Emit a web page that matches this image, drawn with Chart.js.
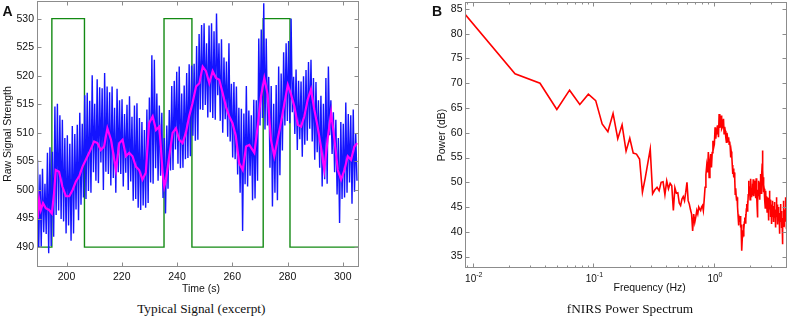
<!DOCTYPE html>
<html>
<head>
<meta charset="utf-8">
<script src="https://cdn.jsdelivr.net/npm/chart.js@4.4.1/dist/chart.umd.min.js"></script>
<style>
  html, body { margin: 0; padding: 0; background: #fff; }
  body { width: 789px; height: 319px; position: relative; overflow: hidden;
         font-family: "Liberation Sans", Arial, sans-serif; color: #111; }
  .box { position: absolute; top: 0; height: 300px; }
  .lbl { position: absolute; white-space: nowrap; }
  .mid { transform: translateX(-50%); }
  .panel { font-weight: bold; font-size: 14px; line-height: 16px; }
  .axis { font-size: 10.5px; line-height: 12px; }
  .cap { font-family: "Liberation Serif", "Times New Roman", serif; font-size: 13.3px; line-height: 16px; }
</style>
</head>
<body>
<div class="box" style="left:0;width:380px"><canvas id="chartA"></canvas></div>
<div class="box" style="left:400px;width:389px"><canvas id="chartB"></canvas></div>

<div class="lbl panel" style="left:2.5px;top:3px">A</div>
<div class="lbl panel" style="left:432px;top:3px">B</div>
<div class="lbl axis mid" style="left:201px;top:282px">Time (s)</div>
<div class="lbl axis mid" style="left:649.7px;top:281px">Frequency (Hz)</div>
<div class="lbl cap mid" style="left:201.3px;top:301px">Typical Signal (excerpt)</div>
<div class="lbl cap mid" style="left:630px;top:301px">fNIRS Power Spectrum</div>

<script>
Chart.defaults.font.family = "'Liberation Sans', Arial, sans-serif";
Chart.defaults.font.size = 10.5;
Chart.defaults.color = '#111';

// ---------- panel A: raw signal ----------
const timeRange = [189.5, 305.7];
const signalRange = [486.6, 533.0];
const timeTicks = [200, 220, 240, 260, 280, 300];
const signalTicks = [490, 495, 500, 505, 510, 515, 520, 525, 530];

// one pulse peak + trough per cardiac cycle
const cycleStart = 189.5;
const cyclePeriod = 0.9;
const rawPeaks = [
  505.3, 502.7, 503.7, 501.1, 506.5, 507.5, 506.7, 514.6, 515.1, 513.1,
  512.3, 509.1, 509.6, 508.1, 511.2, 509.8, 511.4, 513.5, 511.6, 516.6,
  517.0, 515.6, 520.1, 515.1, 519.4, 518.0, 517.8, 520.5, 518.1, 517.1,
  518.1, 514.4, 517.7, 515.7, 515.9, 513.3, 514.9, 516.4, 512.8, 514.8,
  515.2, 512.6, 511.9, 510.5, 514.1, 516.2, 523.6, 522.8, 516.9, 514.8,
  513.5, 509.1, 511.3, 514.0, 518.2, 519.1, 520.7, 521.6, 516.9, 518.3,
  520.5, 522.0, 521.8, 522.1, 525.2, 527.3, 528.9, 529.2, 525.7, 528.8,
  529.2, 527.8, 530.9, 525.7, 526.4, 523.2, 522.5, 525.7, 518.6, 518.9,
  518.1, 514.4, 514.2, 513.4, 518.2, 513.9, 513.1, 515.8, 515.7, 526.5,
  528.1, 532.7, 526.5, 519.8, 518.2, 515.1, 518.4, 521.6, 520.4, 524.1,
  525.7, 526.1, 530.0, 519.8, 521.1, 519.1, 519.0, 519.9, 521.0, 522.4,
  522.8, 519.6, 518.9, 515.7, 516.5, 515.1, 519.6, 521.6, 515.7, 513.6,
  512.3, 509.1, 511.9, 511.6, 515.3, 513.3, 513.1, 514.1, 509.9
];
const rawTroughs = [
  489.9, 490.1, 492.6, 492.3, 488.9, 490.2, 491.8, 495.6, 496.4, 494.9,
  494.5, 492.4, 493.8, 491.1, 492.4, 496.6, 494.7, 497.4, 498.7, 498.4,
  499.8, 499.5, 503.1, 501.6, 501.2, 504.8, 500.0, 503.2, 502.8, 500.8,
  502.1, 499.5, 503.1, 502.8, 500.6, 503.0, 500.0, 501.5, 498.1, 498.4,
  496.9, 496.5, 497.3, 496.9, 497.7, 501.3, 501.1, 503.8, 501.6, 502.5,
  498.6, 495.9, 500.2, 503.4, 503.5, 507.1, 504.6, 503.8, 503.9, 505.4,
  505.6, 505.9, 509.5, 508.6, 508.8, 514.1, 514.0, 514.9, 512.7, 513.6,
  512.6, 512.3, 516.6, 512.1, 510.0, 512.4, 509.3, 508.5, 505.7, 505.4,
  502.7, 499.5, 492.8, 501.0, 500.6, 502.5, 498.2, 498.5, 501.6, 511.3,
  512.6, 510.6, 511.3, 503.9, 497.1, 499.5, 498.2, 502.6, 506.9, 511.3,
  512.1, 511.7, 513.6, 509.8, 507.0, 508.9, 505.8, 507.9, 508.6, 510.7,
  508.5, 505.3, 506.6, 503.9, 500.6, 501.9, 501.1, 509.6, 506.3, 503.1,
  499.2, 494.2, 498.4, 498.7, 499.5, 501.3, 497.6, 499.7, 501.6
];

// smoothed (magenta) trace
const smoothTimes = [
  189.6, 190.1, 190.7, 191.5, 192.5, 193.7, 194.7, 195.5, 196.1, 197.3,
  198.5, 199.8, 201.0, 202.2, 203.4, 204.6, 205.8, 207.0, 208.2, 210.0,
  211.2, 212.4, 213.6, 214.8, 216.1, 217.9, 219.1, 220.3, 221.5, 222.7,
  223.9, 225.1, 226.3, 227.5, 228.7, 229.9, 231.2, 232.4, 233.6, 234.8,
  235.4, 236.0, 237.2, 238.4, 239.6, 240.8, 242.0, 243.2, 244.4, 245.6,
  246.9, 248.1, 249.3, 250.5, 251.7, 252.9, 254.1, 255.3, 256.5, 257.7,
  258.9, 260.1, 261.3, 262.5, 263.8, 265.0, 266.2, 268.0, 269.2, 270.4,
  271.6, 272.8, 274.0, 275.2, 276.4, 277.6, 278.9, 280.1, 281.3, 282.5,
  283.7, 284.9, 286.1, 287.3, 288.5, 289.7, 290.9, 292.1, 293.3, 294.5,
  295.8, 297.0, 298.2, 299.4, 300.6, 301.8, 303.0, 304.2, 305.2
];
const smoothValues = [
  495.0, 498.3, 496.5, 497.7, 496.8, 496.5, 495.9, 499.5, 503.5, 503.2,
  500.6, 498.9, 498.9, 500.0, 501.5, 502.4, 504.1, 505.3, 506.5, 508.5,
  508.2, 507.0, 507.6, 510.8, 508.8, 503.5, 508.2, 508.8, 505.9, 506.5,
  505.9, 504.1, 503.5, 501.8, 503.0, 511.7, 512.9, 510.5, 511.1, 503.0,
  500.6, 501.8, 505.9, 510.0, 510.8, 508.8, 508.2, 510.0, 512.9, 515.2,
  518.1, 518.7, 521.6, 520.8, 518.7, 520.8, 519.6, 519.3, 517.0, 514.6,
  512.9, 511.7, 509.4, 504.7, 503.5, 507.6, 507.9, 506.5, 511.1, 516.4,
  519.6, 516.7, 508.8, 505.9, 508.8, 511.7, 515.2, 518.4, 516.7, 514.6,
  511.4, 511.1, 512.9, 515.8, 517.6, 514.1, 511.1, 507.6, 503.5, 508.8,
  513.5, 508.8, 503.5, 501.8, 503.5, 505.9, 505.3, 507.6, 508.2
];

// stimulus blocks (green)
const stimOn = [194.7, 235.3, 271.2];
const stimOff = [206.5, 245.4, 280.9];
const stimLevels = [490, 530];

// ---------- panel B: power spectrum ----------
const freqRange = [0.0087, 4.0];
const powerRange = [32.8, 86.3];
const powerTicks = [35, 40, 45, 50, 55, 60, 65, 70, 75, 80, 85];
const freqDecades = [0.01, 0.1, 1];
const freqStart = 0.0087;
const freqStep = 0.0137;
const powerDb = [
  83.8, 71.9, 70.0, 64.7, 68.6, 65.7, 67.8, 66.5, 61.8, 60.2,
  63.9, 58.8, 61.6, 56.3, 58.9, 55.9, 55.7, 54.7, 48.0, 50.8,
  53.8, 56.7, 47.7, 48.5, 49.0, 48.3, 50.0, 50.1, 47.5, 50.3,
  48.7, 49.8, 49.3, 44.3, 48.9, 47.8, 47.9, 45.8, 45.3, 46.6,
  47.1, 46.3, 48.0, 50.0, 46.3, 45.6, 44.5, 43.6, 40.2, 43.6,
  41.9, 43.0, 44.3, 43.6, 45.0, 44.6, 44.3, 45.0, 45.3, 44.3,
  46.5, 49.0, 51.5, 53.4, 52.0, 56.1, 51.0, 54.0, 55.7, 53.0,
  56.0, 58.4, 57.0, 57.7, 61.1, 58.8, 60.5, 59.8, 61.5, 59.1,
  63.8, 61.0, 61.8, 63.5, 60.8, 61.1, 62.0, 62.8, 59.8, 61.2,
  60.4, 59.0, 58.1, 60.0, 59.1, 58.3, 59.1, 57.7, 58.2, 57.1,
  55.0, 56.2, 55.4, 53.5, 51.7, 52.8, 51.0, 52.0, 50.7, 47.6,
  48.8, 47.2, 46.3, 47.0, 45.0, 43.5, 41.3, 43.0, 42.5, 42.0,
  43.2, 40.9, 41.5, 39.5, 36.2, 39.0, 40.3, 39.2, 41.6, 40.5,
  42.0, 42.9, 41.8, 43.6, 42.5, 44.6, 45.6, 44.2, 46.3, 45.0,
  47.5, 50.3, 47.8, 49.2, 48.3, 46.5, 49.5, 50.7, 48.5, 47.0,
  48.8, 47.5, 49.7, 48.0, 50.6, 48.3, 47.2, 49.0, 50.3, 47.8,
  49.5, 48.3, 46.8, 50.8, 49.0, 47.5, 45.0, 42.9, 46.0, 48.5,
  47.2, 50.3, 47.6, 49.5, 48.3, 46.5, 50.0, 51.7, 49.2, 47.8,
  50.2, 48.3, 51.5, 53.8, 56.4, 52.5, 50.2, 51.0, 48.0, 49.5,
  48.7, 47.0, 48.2, 46.3, 44.8, 47.2, 48.3, 46.0, 47.2, 45.0,
  46.5, 44.0, 45.8, 47.0, 44.5, 46.0, 43.2, 42.3, 45.0, 46.8,
  44.5, 48.3, 45.2, 46.5, 44.0, 45.6, 43.0, 44.8, 42.5, 41.6,
  44.2, 45.5, 43.0, 46.3, 44.0, 45.2, 43.5, 42.0, 42.9, 44.6,
  43.0, 46.0, 45.6, 43.2, 44.5, 42.2, 43.5, 40.9, 42.8, 44.0,
  45.5, 47.0, 44.2, 45.5, 43.0, 44.0, 42.9, 41.5, 44.2, 42.8,
  44.0, 45.0, 42.5, 43.8, 41.2, 42.5, 39.6, 41.8, 43.5, 42.0,
  44.5, 45.6, 43.0, 44.2, 42.5, 41.9, 43.5, 40.8, 42.2, 39.5,
  40.8, 37.5, 40.5, 42.8, 41.0, 44.0, 46.3, 43.5, 42.0, 43.8,
  42.2, 41.6, 43.0, 44.5, 42.5, 45.0, 43.8, 47.0, 44.5, 42.2,
  43.5, 42.9
];

// ---------- build datasets ----------
const rawPoints = [];
rawPeaks.forEach((p, i) => {
  const t = cycleStart + i * cyclePeriod;
  rawPoints.push({ x: t, y: p });
  rawPoints.push({ x: t + cyclePeriod / 2, y: rawTroughs[i] });
});
const smoothPoints = smoothTimes.map((t, i) => ({ x: t, y: smoothValues[i] }));

const [lo, hi] = stimLevels;
const stimPoints = [{ x: timeRange[0], y: lo }];
stimOn.forEach((on, i) => {
  stimPoints.push({ x: on, y: lo }, { x: on, y: hi },
                  { x: stimOff[i], y: hi }, { x: stimOff[i], y: lo });
});
stimPoints.push({ x: timeRange[1], y: lo });

const spectrumPoints = powerDb.map((db, k) => ({ x: freqStart + k * freqStep, y: db }));

// box round the plot, with MATLAB style inward ticks
const frame = {
  id: 'frame',
  afterDatasetsDraw(chart, args, opts) {
    const { ctx, chartArea: a } = chart;
    const xs = chart.scales.x, ys = chart.scales.y;
    const L = Math.floor(a.left) + 0.5, R = Math.floor(a.right) + 0.5;
    const T = Math.floor(a.top) + 0.5, B = Math.floor(a.bottom) + 0.5;
    ctx.save();
    ctx.strokeStyle = '#8c8c8c';
    ctx.lineWidth = 1;
    ctx.beginPath();
    const vTick = (v, len) => {
      const px = Math.round(xs.getPixelForValue(v)) + 0.5;
      ctx.moveTo(px, B); ctx.lineTo(px, B - len);
      ctx.moveTo(px, T); ctx.lineTo(px, T + len);
    };
    opts.xMajor.forEach(v => vTick(v, 4));
    (opts.xMinor || []).forEach(v => vTick(v, 2));
    opts.yMajor.forEach(v => {
      const py = Math.round(ys.getPixelForValue(v)) + 0.5;
      ctx.moveTo(L, py); ctx.lineTo(L + 4, py);
      ctx.moveTo(R, py); ctx.lineTo(R - 4, py);
    });
    ctx.stroke();
    ctx.strokeRect(L, T, R - L, B - T);

    // log axis labels: 10 with a raised exponent
    if (opts.powerLabels) {
      ctx.fillStyle = '#111';
      ctx.textBaseline = 'alphabetic';
      opts.xMajor.forEach(v => {
        const exp = String(Math.round(Math.log10(v)));
        ctx.font = "10px 'Liberation Sans', Arial, sans-serif";
        const wb = ctx.measureText('10').width;
        ctx.font = "7px 'Liberation Sans', Arial, sans-serif";
        const we = ctx.measureText(exp).width;
        const x0 = xs.getPixelForValue(v) - (wb + we) / 2 + 1;
        ctx.font = "10px 'Liberation Sans', Arial, sans-serif";
        ctx.fillText('10', x0, B + 14);
        ctx.font = "7px 'Liberation Sans', Arial, sans-serif";
        ctx.fillText(exp, x0 + wb, B + 9);
      });
    }
    ctx.restore();
  }
};

const hideGrid = { display: false, drawTicks: false };

new Chart(document.getElementById('chartA'), {
  type: 'line',
  data: {
    datasets: [
      { data: smoothPoints, borderColor: '#ff00ff', borderWidth: 2.2, order: 0 },
      { data: rawPoints, borderColor: '#1414ff', borderWidth: 1.4, order: 1 },
      { data: stimPoints, borderColor: '#138a13', borderWidth: 1.4, order: 2 }
    ]
  },
  options: {
    animation: false,
    responsive: true,
    maintainAspectRatio: false,
    events: [],
    layout: { padding: { left: 0, top: 1.5, right: 21.5, bottom: 8.5 } },
    elements: { point: { radius: 0 }, line: { tension: 0 } },
    plugins: {
      legend: { display: false },
      tooltip: { enabled: false },
      frame: { xMajor: timeTicks, yMajor: signalTicks }
    },
    scales: {
      x: {
        type: 'linear', min: timeRange[0], max: timeRange[1],
        afterBuildTicks: s => { s.ticks = timeTicks.map(v => ({ value: v })); },
        afterFit: s => { s.height = 25; s.paddingLeft = 0; s.paddingRight = 0; },
        grid: hideGrid, border: { display: false },
        ticks: { padding: 4, maxRotation: 0, autoSkip: false, callback: v => String(v) }
      },
      y: {
        type: 'linear', min: signalRange[0], max: signalRange[1],
        afterBuildTicks: s => { s.ticks = signalTicks.map(v => ({ value: v })); },
        afterFit: s => { s.width = 37.5; s.paddingTop = 0; s.paddingBottom = 0; },
        grid: hideGrid, border: { display: false },
        ticks: { padding: 3.5, autoSkip: false, callback: v => String(v) },
        title: { display: true, text: 'Raw Signal Strength', padding: { top: 2, bottom: 0 } }
      }
    }
  },
  plugins: [frame]
});

const minorFreqs = [];
[0.001, 0.01, 0.1, 1].forEach(d => {
  [2, 3, 4, 5, 6, 7, 8, 9].forEach(m => {
    const f = d * m;
    if (f > freqRange[0] && f < freqRange[1]) minorFreqs.push(f);
  });
});

new Chart(document.getElementById('chartB'), {
  type: 'line',
  data: {
    datasets: [
      { data: spectrumPoints, borderColor: '#ff0000', borderWidth: 1.6 }
    ]
  },
  options: {
    animation: false,
    responsive: true,
    maintainAspectRatio: false,
    events: [],
    layout: { padding: { left: 34, top: 2.5, right: 2.5, bottom: 7.5 } },
    elements: { point: { radius: 0 }, line: { tension: 0 } },
    plugins: {
      legend: { display: false },
      tooltip: { enabled: false },
      frame: { xMajor: freqDecades, xMinor: minorFreqs, yMajor: powerTicks, powerLabels: true }
    },
    scales: {
      x: {
        type: 'logarithmic', min: freqRange[0], max: freqRange[1],
        afterFit: s => { s.height = 25; s.paddingLeft = 0; s.paddingRight = 0; },
        grid: hideGrid, border: { display: false },
        ticks: { display: false }
      },
      y: {
        type: 'linear', min: powerRange[0], max: powerRange[1],
        afterBuildTicks: s => { s.ticks = powerTicks.map(v => ({ value: v })); },
        afterFit: s => { s.width = 31.5; s.paddingTop = 0; s.paddingBottom = 0; },
        grid: hideGrid, border: { display: false },
        ticks: { padding: 3, autoSkip: false, callback: v => String(v) },
        title: { display: true, text: 'Power (dB)', padding: { top: 2, bottom: 0 } }
      }
    }
  },
  plugins: [frame]
});
</script>
</body>
</html>
